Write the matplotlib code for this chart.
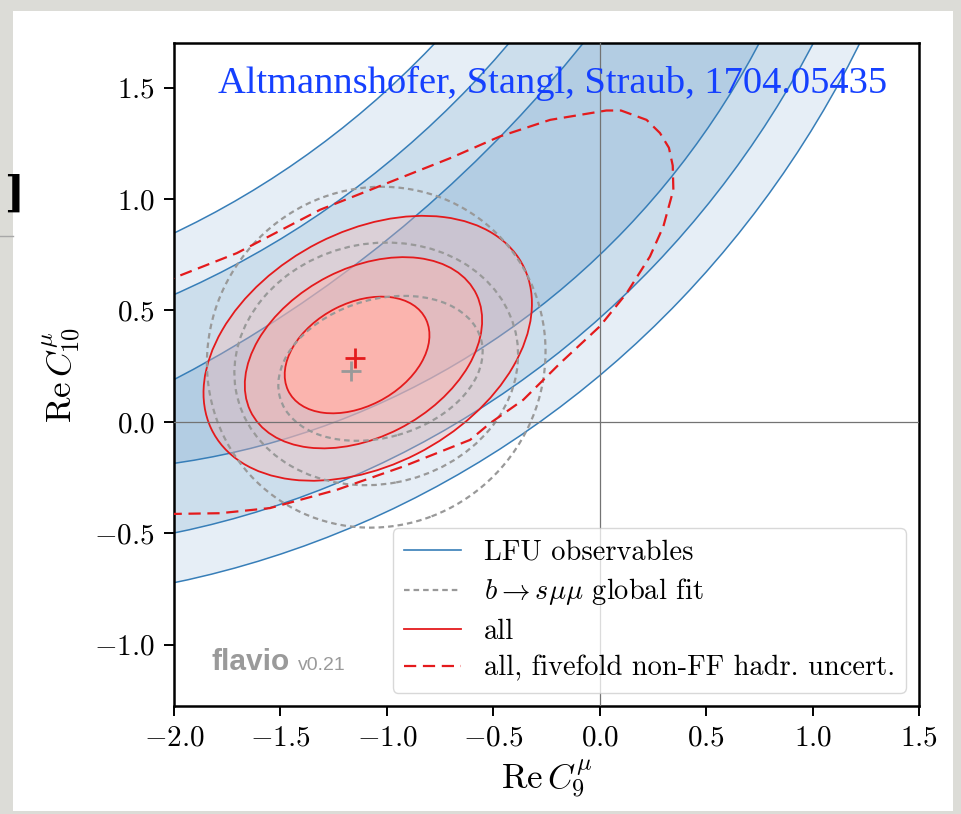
import matplotlib
matplotlib.use('Agg')
import matplotlib.pyplot as plt
from matplotlib.patches import Circle, Ellipse, Rectangle
from matplotlib.lines import Line2D

plt.rcParams['font.family'] = 'serif'
plt.rcParams['font.serif'] = ['cmr10']
plt.rcParams['mathtext.fontset'] = 'cm'
plt.rcParams['axes.formatter.use_mathtext'] = True

lfu_lower = [(-2.90, 3.83, 4.64), (-2.84, 3.80, 4.38), (-2.50, 3.49, 3.71)]   # 3, 2, 1 sigma
lfu_upper = [(-4.68, 5.58, 6.02), (-3.69, 4.59, 4.36), (-3.70, 4.60, 4.12)]   # 1, 2, 3 sigma

# "all" contours: centre x, centre y, semi-axis a, semi-axis b, angle (deg)
all_cx = [-1.14, -1.11, -1.09]
all_cy = [0.30, 0.31, 0.33]
all_a = [0.361, 0.592, 0.819]
all_b = [0.232, 0.380, 0.527]
all_ang = [26, 26, 26]

# b -> s mu mu global fit contours
gl_cx = [-1.03, -1.05, -1.05]
gl_cy = [0.24, 0.26, 0.29]
gl_a = [0.49, 0.67, 0.80]
gl_b = [0.31, 0.54, 0.76]
gl_ang = [15, 10, 20]

# fivefold hadronic uncertainty contour (points along the curve)
ff_x = [-2.05, -2.0, -1.705, -1.313, -0.703, -0.468, -0.233, 0.031, 0.10, 0.22, 0.283, 0.325,
        0.343, 0.346, 0.299, 0.236, 0.127, 0.0, -0.186, -0.359, -0.515, -0.609, -0.922,
        -1.235, -1.549, -1.784, -1.987, -2.05]
ff_y = [0.62, 0.646, 0.757, 0.952, 1.183, 1.281, 1.355, 1.397, 1.397, 1.355, 1.296, 1.23,
        1.15, 1.041, 0.877, 0.742, 0.578, 0.428, 0.263, 0.099, -0.006, -0.081, -0.200,
        -0.305, -0.387, -0.410, -0.413, -0.413]

best_all = (-1.15, 0.285)
best_gl = (-1.17, 0.23)

blue_line = '#377eb8'
blue_fill = ['#e6eef6', '#ccdeec', '#b3cde3']
red_line = '#e41a1c'
red_fill = '#fbb4ae'
grey = '#999999'

fig = plt.figure(figsize=(9.62, 8.14), dpi=100, facecolor='#dcdcd7')
fig.patches.append(Rectangle((0.0135, 0.0037), 0.977, 0.983, transform=fig.transFigure,
                             facecolor='white', edgecolor='none', zorder=-10))
ax = fig.add_axes([0.1809, 0.1327, 0.7744, 0.8145])

# LFU bands (layered circles)
for (cx, cy, r), c in zip(lfu_lower, blue_fill):
    ax.add_patch(Circle((cx, cy), r, facecolor=c, edgecolor=blue_line, lw=1.1, zorder=1))
for (cx, cy, r), c in zip(lfu_upper, [blue_fill[1], blue_fill[0], 'white']):
    ax.add_patch(Circle((cx, cy), r, facecolor=c, edgecolor=blue_line, lw=1.1, zorder=1))

# all
for i, al in zip([2, 1, 0], [1 / 3, 0.5, 1.0]):
    ax.add_patch(Ellipse((all_cx[i], all_cy[i]), 2 * all_a[i], 2 * all_b[i], angle=all_ang[i],
                         facecolor=red_fill, edgecolor='none', alpha=al, zorder=2))
for i in range(3):
    ax.add_patch(Ellipse((all_cx[i], all_cy[i]), 2 * all_a[i], 2 * all_b[i], angle=all_ang[i],
                         fill=False, edgecolor=red_line, lw=1.3, zorder=3))

# global fit
for i in range(3):
    ax.add_patch(Ellipse((gl_cx[i], gl_cy[i]), 2 * gl_a[i], 2 * gl_b[i], angle=gl_ang[i],
                         fill=False, edgecolor=grey, lw=1.6, ls=(0, (2.5, 1.8)), zorder=3))

ax.plot(ff_x, ff_y, color=red_line, lw=1.6, ls=(0, (5.5, 3)), zorder=3)

ax.axhline(0, color='0.45', lw=0.9, zorder=4)
ax.axvline(0, color='0.45', lw=0.9, zorder=4)

ax.plot(*best_gl, marker='+', color=grey, ms=14, mew=2, zorder=5)
ax.plot(*best_all, marker='+', color=red_line, ms=14, mew=2, zorder=5)

ax.set_xlim(-2.0, 1.5)
ax.set_ylim(-1.275, 1.70)
ax.set_xticks([-2.0, -1.5, -1.0, -0.5, 0.0, 0.5, 1.0, 1.5])
ax.set_yticks([-1.0, -0.5, 0.0, 0.5, 1.0, 1.5])
ax.tick_params(direction='out', length=7, width=1.4, labelsize=21, pad=7,
               top=False, right=False)
for s in ax.spines.values():
    s.set_linewidth(1.8)

ax.set_xlabel(r'$\mathrm{Re}\,C_9^{\mu}$', fontsize=25, labelpad=4)
ax.set_ylabel(r'$\mathrm{Re}\,C_{10}^{\mu}$', fontsize=25, labelpad=8)

handles = [Line2D([], [], color=blue_line, lw=1.2),
           Line2D([], [], color=grey, lw=1.6, ls=(0, (2.5, 1.8))),
           Line2D([], [], color=red_line, lw=1.3),
           Line2D([], [], color=red_line, lw=1.6, ls=(0, (5.5, 3)))]
labels = ['LFU observables', r'$b\to s\mu\mu$ global fit', 'all',
          'all, fivefold non-FF hadr. uncert.']
leg = ax.legend(handles, labels, loc='lower right', fontsize=20.5, fancybox=True,
                edgecolor='#cccccc', framealpha=0.75, handlelength=2.0,
                labelspacing=0.38, borderaxespad=0.45)
leg.set_zorder(10)

ax.text(0.05, 0.055, 'flavio', transform=ax.transAxes, fontsize=21.5, fontweight='bold',
        family='Liberation Sans', color='#9a9a9a', zorder=6)
ax.text(0.166, 0.055, 'v0.21', transform=ax.transAxes, fontsize=14,
        family='Liberation Sans', color='#9a9a9a', zorder=6)

fig.text(218 / 962, 1 - 93 / 814, 'Altmannshofer, Stangl, Straub, 1704.05435',
         fontsize=27.7, family='Liberation Serif', color='#1540ff', va='baseline')

# bits of the slide behind
fig.text(4 / 962, 1 - 195 / 814, ']', fontsize=30, family='DejaVu Serif', va='center',
         fontweight='bold')
fig.add_artist(Line2D([0, 13 / 962], [1 - 236 / 814, 1 - 236 / 814], color='#a8a8a8',
                      lw=1, transform=fig.transFigure))

fig.savefig('out.png', dpi=100, facecolor=fig.get_facecolor())
